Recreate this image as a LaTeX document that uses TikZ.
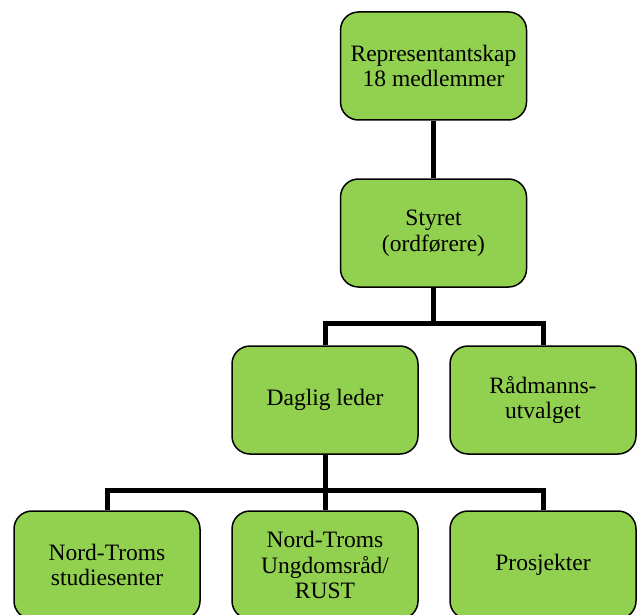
\documentclass[tikz,border=0pt]{standalone}
\usepackage{fontspec}
\setmainfont{Liberation Serif}
\definecolor{boxgreen}{HTML}{92D050}
\begin{document}
\begin{tikzpicture}[x=1pt,y=-1pt,
  orgbox/.style={draw=black, line width=1.5pt, fill=boxgreen, rounded corners=18pt,
    minimum width=186pt, minimum height=108pt, align=center, inner sep=2pt,
    font=\fontsize{23.5}{25.5}\selectfont},
  link/.style={line width=5pt, draw=black}]
\useasboundingbox (0,0) rectangle (637,615);
\begin{scope}
\clip (0,0) rectangle (637,615);
\node[orgbox] (rep) at (433.5,66) {Representantskap\\18 medlemmer};
\node[orgbox] (sty) at (433.5,233) {Styret\\(ordførere)};
\node[orgbox] (dag) at (325,400) {Daglig leder};
\node[orgbox] (rad) at (543,400) {Rådmanns-\\utvalget};
\node[orgbox] (nts) at (107,565) {Nord-Troms\\studiesenter};
\node[orgbox] (ung) at (325,565) {Nord-Troms\\Ungdomsråd/\\RUST};
\node[orgbox] (pro) at (543,565) {Prosjekter};
\coordinate (j1) at (433.5,323);
\coordinate (j2) at (325,490);
\draw[link] (rep.south) -- (sty.north);
\draw[link] (sty.south) -- (j1);
\draw[link] (dag.north) |- (j1) -| (rad.north);
\draw[link] (dag.south) -- (ung.north);
\draw[link] (nts.north) |- (j2) -| (pro.north);
\end{scope}
\end{tikzpicture}
\end{document}
